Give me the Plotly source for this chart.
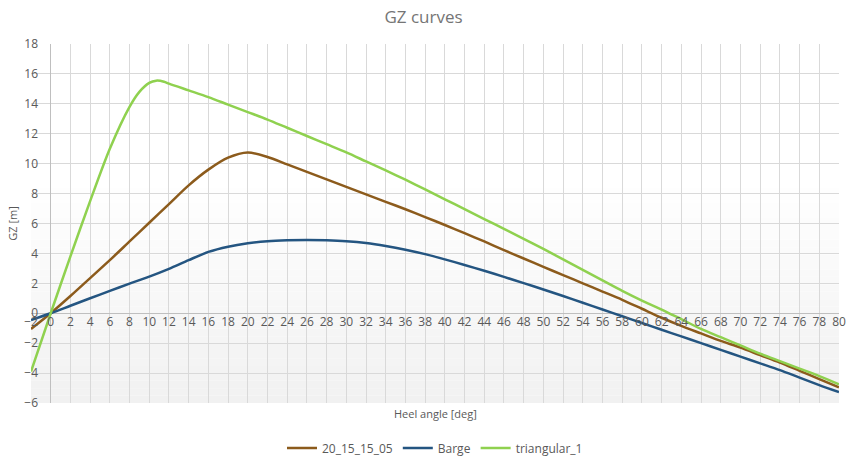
import plotly.graph_objects as go

# ---------------- data ----------------
brown_name = "20_15_15_05"
brown_x = [-2, 0, 2, 4, 6, 8, 10, 12, 14, 16, 18, 20, 22, 24, 26, 28, 30, 32, 34, 36, 38, 40,
           42, 44, 46, 48, 50, 52, 54, 56, 58, 60, 62, 64, 66, 68, 70, 72, 74, 76, 78, 80]
brown_y = [-1.05, 0, 1.15, 2.35, 3.55, 4.8, 6.05, 7.3, 8.55, 9.6, 10.4, 10.75, 10.45, 9.95,
           9.45, 8.95, 8.45, 7.95, 7.45, 6.95, 6.43, 5.9, 5.35, 4.8, 4.22, 3.66, 3.1, 2.55,
           2.0, 1.45, 0.9, 0.3, -0.3, -0.85, -1.35, -1.85, -2.3, -2.8, -3.3, -3.85, -4.4, -4.95]

blue_name = "Barge"
blue_x = [-2, 0, 2, 4, 6, 8, 10, 12, 14, 16, 18, 20, 22, 24, 26, 28, 30, 32, 34, 36, 38, 40,
          42, 44, 46, 48, 50, 52, 54, 56, 58, 60, 62, 64, 66, 68, 70, 72, 74, 76, 78, 80]
blue_y = [-0.45, 0, 0.5, 1.0, 1.5, 1.98, 2.45, 2.97, 3.55, 4.1, 4.45, 4.68, 4.82, 4.88, 4.9,
          4.88, 4.82, 4.7, 4.5, 4.25, 3.95, 3.6, 3.23, 2.84, 2.43, 2.01, 1.59, 1.15, 0.7, 0.25,
          -0.2, -0.65, -1.1, -1.55, -2.0, -2.45, -2.9, -3.35, -3.8, -4.3, -4.8, -5.27]

green_name = "triangular_1"
green_x = [-2, 0, 2, 4, 6, 8, 9, 10, 10.7, 11.5, 12, 14, 16, 18, 20, 22, 24, 26, 28, 30, 32,
           34, 36, 38, 40, 42, 44, 46, 48, 50, 52, 54, 56, 58, 60, 62, 64, 66, 68, 70, 72,
           74, 76, 78, 80]
green_y = [-3.9, 0, 3.8, 7.5, 11.0, 13.8, 14.8, 15.4, 15.55, 15.48, 15.35, 14.9, 14.45, 13.95,
           13.45, 12.95, 12.4, 11.85, 11.3, 10.75, 10.15, 9.55, 8.93, 8.28, 7.62, 6.96, 6.3,
           5.64, 4.98, 4.3, 3.6, 2.9, 2.2, 1.5, 0.85, 0.25, -0.4, -1.05, -1.6, -2.15, -2.7,
           -3.2, -3.7, -4.2, -4.75]

chart_title = "GZ curves"
x_title = "Heel angle [deg]"
y_title = "GZ [m]"

# ---------------- figure ----------------
FONT = "Open Sans"
TXT = "#595959"

fig = go.Figure()
for name, xs, ys, col in [
    (brown_name, brown_x, brown_y, "#8c5b1c"),
    (blue_name, blue_x, blue_y, "#245581"),
    (green_name, green_x, green_y, "#8fd14f"),
]:
    fig.add_trace(go.Scatter(x=xs, y=ys, name=name, mode="lines",
                             line=dict(color=col, width=2.5, shape="spline", smoothing=0.8)))

# subtle vertical gradient in the plot area
shapes = []
n = 30
top = 0.62
for i in range(n):
    f0 = top * i / n
    f1 = top * (i + 1) / n
    t = (i + 0.5) / n
    c = int(round(0xf1 + (0xff - 0xf1) * t))
    shapes.append(dict(type="rect", xref="paper", yref="paper", x0=0, x1=1, y0=f0, y1=f1,
                       fillcolor=f"rgb({c},{c},{c})", line=dict(width=0), layer="below"))

fig.update_layout(
    width=847, height=459,
    margin=dict(l=31, r=8, t=44, b=56, autoexpand=False),
    paper_bgcolor="white",
    plot_bgcolor="rgba(0,0,0,0)",
    shapes=shapes,
    font=dict(family=FONT, color=TXT, size=12),
    title=dict(text=chart_title, x=0.5, xanchor="center", y=1 - 17 / 459, yanchor="middle",
               font=dict(size=17, color="#757575", family=FONT), automargin=False),
    showlegend=True,
    legend=dict(orientation="h", x=0.5, xanchor="center", yref="container",
                y=1 - 448 / 459, yanchor="middle",
                font=dict(size=12, color=TXT), itemwidth=30, bgcolor="rgba(0,0,0,0)"),
    xaxis=dict(range=[-2, 80], tick0=0, dtick=2, showgrid=True, gridcolor="#d9d9d9",
               gridwidth=1, zeroline=True, zerolinecolor="#bfbfbf", zerolinewidth=1,
               showline=False, ticks="", anchor="free", position=0.25, automargin=False,
               tickfont=dict(size=12, color=TXT)),
    yaxis=dict(range=[-6, 18], tick0=0, dtick=2, showgrid=True, gridcolor="#d9d9d9",
               gridwidth=1, zeroline=True, zerolinecolor="#bfbfbf", zerolinewidth=1,
               showline=False, ticks="", ticklabelstandoff=-8, automargin=False,
               tickfont=dict(size=12, color=TXT),
               title=dict(text=y_title, font=dict(size=11, color=TXT), standoff=4)),
    annotations=[dict(text=x_title, xref="paper", yref="paper", x=0.5, y=-0.03,
                      xanchor="center", yanchor="middle", showarrow=False,
                      font=dict(size=11, color=TXT))],
)

fig.write_html("out.html")
